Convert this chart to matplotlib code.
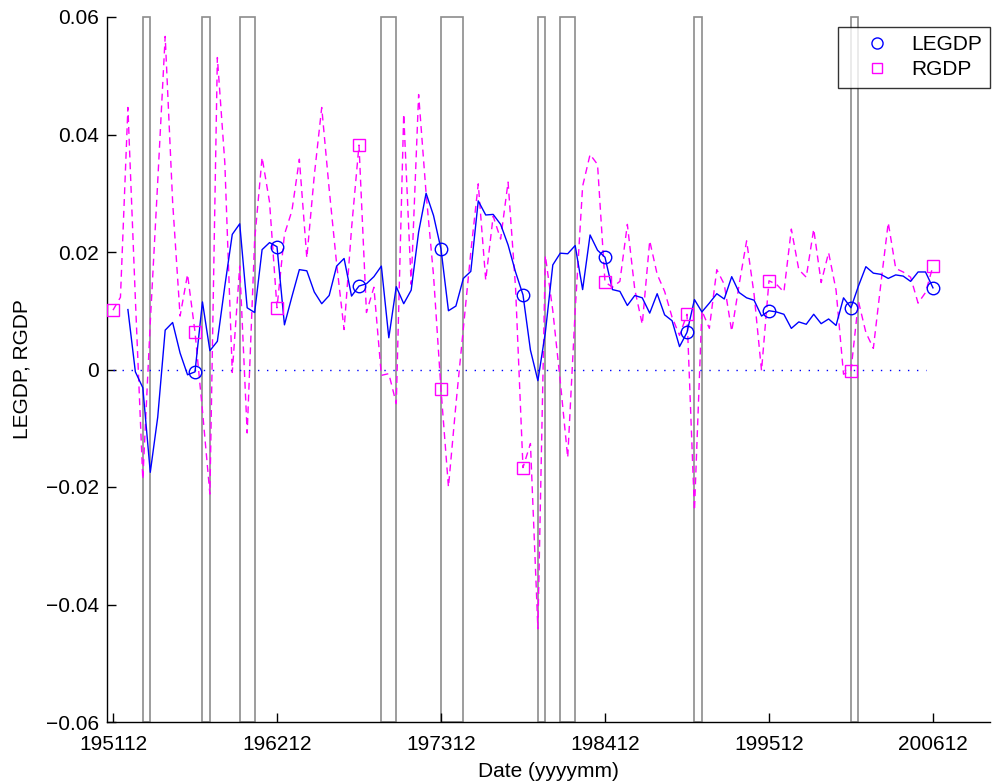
import numpy as np
import matplotlib
matplotlib.use("Agg")
import matplotlib.pyplot as plt
from matplotlib.lines import Line2D
from matplotlib.patches import Rectangle

plt.rcParams['font.family'] = ['Liberation Sans', 'DejaVu Sans']

# Semiannual observations, index 0 = 195112, step = 6 months
tick_labels = ['195112', '196212', '197312', '198412', '199512', '200612']
tick_index = [0, 22, 44, 66, 88, 110]

rgdp = [0.0101, 0.0123, 0.0446, 0.0120, -0.0187, 0.0080, 0.0320, 0.0567, 0.0285, 0.0091,
        0.0162, 0.0064, -0.0070, -0.0212, 0.0531, 0.0352, -0.0005, 0.0176, -0.0108, 0.0220,
        0.0361, 0.0285, 0.0105, 0.0230, 0.0270, 0.0358, 0.0190, 0.0330, 0.0446, 0.0307,
        0.0180, 0.0068, 0.0240, 0.0382, 0.0097, 0.0140, -0.0010, -0.0007, -0.0058, 0.0435,
        0.0145, 0.0468, 0.0300, 0.0160, -0.0034, -0.0200, -0.0060, 0.0070, 0.0200, 0.0316,
        0.0152, 0.0261, 0.0222, 0.0319, 0.0140, -0.0167, -0.0126, -0.0441, 0.0194, 0.0100,
        -0.0020, -0.0150, 0.0100, 0.0312, 0.0366, 0.0349, 0.0149, 0.0140, 0.0150, 0.0247,
        0.0136, 0.0077, 0.0219, 0.0162, 0.0133, 0.0089, 0.0058, 0.0094, -0.0240, 0.0100,
        0.0070, 0.0170, 0.0145, 0.0065, 0.0145, 0.0219, 0.0128, -0.0002, 0.0151, 0.0145,
        0.0132, 0.0239, 0.0170, 0.0157, 0.0239, 0.0148, 0.0199, 0.0135, -0.0008, -0.0002,
        0.0116, 0.0063, 0.0036, 0.0145, 0.0250, 0.0172, 0.0166, 0.0157, 0.0113, 0.0131,
        0.0176]

legdp_start = 2
legdp = [0.0102, -0.0004, -0.0031, -0.0175, -0.0081, 0.0067, 0.0080, 0.0028, -0.0009, -0.0004,
         0.0115, 0.0032, 0.0048, 0.0142, 0.0230, 0.0248, 0.0105, 0.0097, 0.0204, 0.0216,
         0.0209, 0.0076, 0.0124, 0.0170, 0.0168, 0.0132, 0.0112, 0.0126, 0.0176, 0.0189,
         0.0125, 0.0142, 0.0146, 0.0158, 0.0176, 0.0054, 0.0141, 0.0112, 0.0135, 0.0234,
         0.0300, 0.0262, 0.0205, 0.0100, 0.0108, 0.0155, 0.0167, 0.0287, 0.0263, 0.0264,
         0.0247, 0.0212, 0.0166, 0.0127, 0.0033, -0.0019, 0.0063, 0.0178, 0.0198, 0.0197,
         0.0211, 0.0136, 0.0229, 0.0203, 0.0191, 0.0136, 0.0133, 0.0109, 0.0126, 0.0122,
         0.0096, 0.0129, 0.0093, 0.0083, 0.0039, 0.0063, 0.0119, 0.0098, 0.0113, 0.0129,
         0.0120, 0.0158, 0.0131, 0.0122, 0.0118, 0.0091, 0.0100, 0.0098, 0.0094, 0.0070,
         0.0081, 0.0077, 0.0094, 0.0078, 0.0086, 0.0075, 0.0122, 0.0105, 0.0142, 0.0175,
         0.0164, 0.0162, 0.0155, 0.0161, 0.0159, 0.0150, 0.0166, 0.0166, 0.0139]

recession_start = [4, 12, 17, 36, 44, 57, 60, 78, 99]
recession_end = [5, 13, 19, 38, 47, 58, 62, 79, 100]

zero_line_end = 109

x_r = np.arange(len(rgdp))
x_l = np.arange(legdp_start, legdp_start + len(legdp))

fig = plt.figure(figsize=(9.92, 7.84), dpi=100)
ax = fig.add_axes([107/992, 62/784, (990-107)/992, (722-17)/784])

ymin, ymax = -0.06, 0.06
for s, e in zip(recession_start, recession_end):
    ax.add_patch(Rectangle((s, ymin), e - s, ymax - ymin, facecolor='white',
                           edgecolor='0.55', lw=1.2, zorder=1, clip_on=False))

ax.plot([0, zero_line_end], [0, 0], color='blue', lw=1, linestyle=(0, (1, 5.5)), zorder=2)

ax.plot(x_r, rgdp, color='magenta', lw=1, linestyle=(0, (5, 3.5)), zorder=3)
ax.plot(x_r, rgdp, color='magenta', lw=0, marker='s', markersize=8, markerfacecolor='none',
        markeredgewidth=1, markevery=11, zorder=4)
ax.plot(x_l, legdp, color='blue', lw=1, zorder=3)
ax.plot(x_l, legdp, color='blue', lw=0, marker='o', markersize=9, markerfacecolor='none',
        markeredgewidth=1, markevery=slice(9, None, 11), zorder=4)

ax.set_xlim(-0.805, 117.65)
ax.set_ylim(ymin, ymax)

ax.set_xticks(tick_index)
ax.set_xticklabels(tick_labels)
yt = [-0.06, -0.04, -0.02, 0, 0.02, 0.04, 0.06]
ax.set_yticks(yt)
ax.set_yticklabels(['\u22120.06', '\u22120.04', '\u22120.02', '0', '0.02', '0.04', '0.06'])

fs = 15
ax.tick_params(direction='in', length=6.3, width=1, labelsize=fs, colors='black')
ax.tick_params(axis='y', pad=6)
ax.tick_params(axis='x', pad=9)
ax.spines['top'].set_visible(False)
ax.spines['right'].set_visible(False)
for sp in ('left', 'bottom'):
    ax.spines[sp].set_linewidth(1)

ax.set_xlabel('Date (yyyymm)', fontsize=fs, labelpad=6)
ax.set_ylabel('LEGDP, RGDP', fontsize=fs, labelpad=10)

handles = [Line2D([], [], color='blue', lw=0, marker='o', markersize=8, markerfacecolor='none'),
           Line2D([], [], color='magenta', lw=0, marker='s', markersize=7, markerfacecolor='none')]
leg = ax.legend(handles, ['LEGDP', 'RGDP'], loc='upper right', bbox_to_anchor=(1.0, 0.986),
                borderaxespad=0, fontsize=fs, frameon=True, fancybox=False,
                handlelength=3.0, handletextpad=0.1, labelspacing=0.3, borderpad=0.4)
leg.get_frame().set_edgecolor('black')
leg.get_frame().set_linewidth(1)
leg.set_zorder(10)

fig.savefig('out.png', dpi=100)
